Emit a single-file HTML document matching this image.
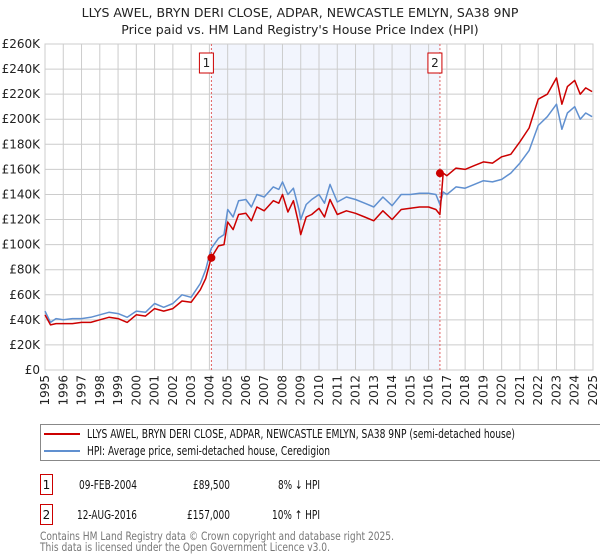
<!DOCTYPE html>
<html><head><meta charset="utf-8">
<style>
body{margin:0;background:#fff;font-family:"Liberation Sans","DejaVu Sans",sans-serif;}
#wrap{position:relative;width:600px;height:560px;overflow:hidden}
svg text{font-family:"DejaVu Sans","Liberation Sans",sans-serif;}
</style></head><body>
<div id="wrap">
<svg id="chart" width="600" height="560"></svg>
</div>
<script>
const years=[1995,1996,1997,1998,1999,2000,2001,2002,2003,2004,2005,2006,2007,2008,2009,2010,2011,2012,2013,2014,2015,2016,2017,2018,2019,2020,2021,2022,2023,2024,2025];
const yTicks=[0,20000,40000,60000,80000,100000,120000,140000,160000,180000,200000,220000,240000,260000];
const dates=[1995.0,1995.3,1995.6,1996.0,1996.5,1997.0,1997.5,1998.0,1998.5,1999.0,1999.5,2000.0,2000.5,2001.0,2001.5,2002.0,2002.5,2003.0,2003.5,2003.8,2004.1,2004.5,2004.8,2005.0,2005.3,2005.6,2006.0,2006.3,2006.6,2007.0,2007.5,2007.8,2008.0,2008.3,2008.6,2008.9,2009.0,2009.3,2009.6,2010.0,2010.3,2010.6,2011.0,2011.5,2012.0,2012.5,2013.0,2013.5,2014.0,2014.5,2015.0,2015.5,2016.0,2016.4,2016.62,2016.8,2017.0,2017.5,2018.0,2018.5,2019.0,2019.5,2020.0,2020.5,2021.0,2021.5,2022.0,2022.5,2023.0,2023.3,2023.6,2024.0,2024.3,2024.6,2024.95];
const hpiValues=[47000,38000,41000,40000,41000,41000,42000,44000,46000,45000,42000,47000,46000,53000,50000,53000,60000,58000,69000,80000,97000,105000,108000,128000,122000,135000,136000,130000,140000,138000,146000,144000,150000,140000,145000,128000,120000,132000,136000,140000,133000,148000,134000,138000,136000,133000,130000,138000,131000,140000,140000,141000,141000,140000,132000,142000,140000,146000,145000,148000,151000,150000,152000,157000,165000,175000,195000,202000,212000,192000,205000,210000,200000,205000,202000];
const priceValues=[44000,36000,37000,37000,37000,38000,38000,40000,42000,41000,38000,44000,43000,49000,47000,49000,55000,54000,64000,73000,89500,99000,100000,118000,112000,124000,125000,119000,130000,127000,135000,133000,140000,126000,135000,116000,108000,122000,124000,129000,122000,136000,124000,127000,125000,122000,119000,127000,120000,128000,129000,130000,130000,128000,124000,157000,155000,161000,160000,163000,166000,165000,170000,172000,182000,193000,216000,220000,233000,212000,226000,231000,220000,225000,222000];
const saleDates=[2004.11,2016.62];
const salePrices=[89500,157000];

const L=45,R=593,T=44,B=370;
const x=d=>L+(d-1995)/30*(R-L);
const y=v=>B-v/260000*(B-T);
const NS='http://www.w3.org/2000/svg';
const svg=document.getElementById('chart');
function mk(tag,attrs,parent){const e=document.createElementNS(NS,tag);for(const k in attrs)e.setAttribute(k,attrs[k]);(parent||svg).appendChild(e);return e;}

let t=mk('text',{x:300,y:17,'text-anchor':'middle','font-size':12.5,fill:'#222'});t.textContent='LLYS AWEL, BRYN DERI CLOSE, ADPAR, NEWCASTLE EMLYN, SA38 9NP';


t=mk('text',{x:300,y:34,'text-anchor':'middle','font-size':12.5,fill:'#222'});t.textContent="Price paid vs. HM Land Registry's House Price Index (HPI)";



let sh=mk('rect',{x:x(saleDates[0]),y:T,width:x(saleDates[1])-x(saleDates[0]),height:B-T,fill:'#f2f5fd'});



years.forEach(yr=>{
 const g=mk('line',{x1:x(yr),x2:x(yr),y1:T,y2:B,stroke:'#ccc','stroke-width':1});
 
 
 const tx=mk('text',{transform:`translate(${x(yr)+4},${B+5}) rotate(-90)`,'text-anchor':'end','font-size':12,fill:'#222'});
 tx.textContent=yr;
 
 
});
yTicks.forEach(v=>{
 const g=mk('line',{x1:L,x2:R,y1:y(v),y2:y(v),stroke:'#ccc','stroke-width':1});
 
 
 const tx=mk('text',{x:L-5,y:y(v)+4,'text-anchor':'end','font-size':12,fill:'#222'});
 tx.textContent=v===0?'£0':'£'+(v/1000)+'K';
 
 
});
let ax=mk('rect',{x:L,y:T,width:R-L,height:B-T,fill:'none',stroke:'#ccc'});



saleDates.forEach((d,i)=>{
 const l=mk('line',{x1:x(d),x2:x(d),y1:T,y2:B,stroke:'#e06060','stroke-width':1,'stroke-dasharray':'2,2'});
 
 
 const r=mk('rect',{x:x(d)-12,y:53,width:14,height:20,fill:'#fff',stroke:'#c00'});
 
 
 const tx=mk('text',{x:x(d)-5,y:67,'text-anchor':'middle','font-size':12,fill:'#222'});
 tx.textContent=i+1;
 
 
});

const line=(vals,col,name)=>{
 const p=mk('polyline',{points:dates.map((d,i)=>x(d).toFixed(1)+','+y(vals[i]).toFixed(1)).join(' '),fill:'none',stroke:col,'stroke-width':1.5,'stroke-linejoin':'round'});
 
 
};
line(hpiValues,'#6090d0','hpi-line');
line(priceValues,'#cc0000','price-line');
saleDates.forEach((d,i)=>{
 const c=mk('circle',{cx:x(d),cy:y(salePrices[i]),r:4,fill:'#cc0000'});
 
 
});

const lg=mk('rect',{x:40.5,y:424.5,width:560,height:36,fill:'#fff',stroke:'#888'});


mk('line',{x1:44,x2:80,y1:434,y2:434,stroke:'#cc0000','stroke-width':2});
mk('line',{x1:44,x2:80,y1:451,y2:451,stroke:'#6090d0','stroke-width':2});
t=mk('text',{x:87,y:438,'font-size':12,fill:'#111',textLength:428,lengthAdjust:'spacingAndGlyphs'});t.textContent='LLYS AWEL, BRYN DERI CLOSE, ADPAR, NEWCASTLE EMLYN, SA38 9NP (semi-detached house)';


t=mk('text',{x:87,y:455,'font-size':12,fill:'#111',textLength:243,lengthAdjust:'spacingAndGlyphs'});t.textContent='HPI: Average price, semi-detached house, Ceredigion';



const rows=[['09-FEB-2004','£89,500','8% ↓ HPI'],['12-AUG-2016','£157,000','10% ↑ HPI']];
const dateW=[58,60],priceW=[37,43],diffW=[42,48];
rows.forEach((r,i)=>{
 const yy=489+i*30;
 const b=mk('rect',{x:40.5,y:yy-14.5,width:12,height:20,fill:'#fff',stroke:'#c00'});
 
 
 let s=mk('text',{x:46.5,y:yy,'text-anchor':'middle','font-size':12,fill:'#111'});s.textContent=i+1;
 
 
 s=mk('text',{x:137-dateW[i],y:yy,'font-size':12,fill:'#111',textLength:dateW[i],lengthAdjust:'spacingAndGlyphs'});s.textContent=r[0];
 
 
 s=mk('text',{x:230-priceW[i],y:yy,'font-size':12,fill:'#111',textLength:priceW[i],lengthAdjust:'spacingAndGlyphs'});s.textContent=r[1];
 
 
 s=mk('text',{x:320-diffW[i],y:yy,'font-size':12,fill:'#111',textLength:diffW[i],lengthAdjust:'spacingAndGlyphs'});s.textContent=r[2];
 
 
});
t=mk('text',{x:40,y:540,'font-size':11.5,fill:'#777',textLength:354,lengthAdjust:'spacingAndGlyphs'});t.textContent='Contains HM Land Registry data © Crown copyright and database right 2025.';


t=mk('text',{x:40,y:551,'font-size':11.5,fill:'#777',textLength:290,lengthAdjust:'spacingAndGlyphs'});t.textContent='This data is licensed under the Open Government Licence v3.0.';


</script>
</body></html>
